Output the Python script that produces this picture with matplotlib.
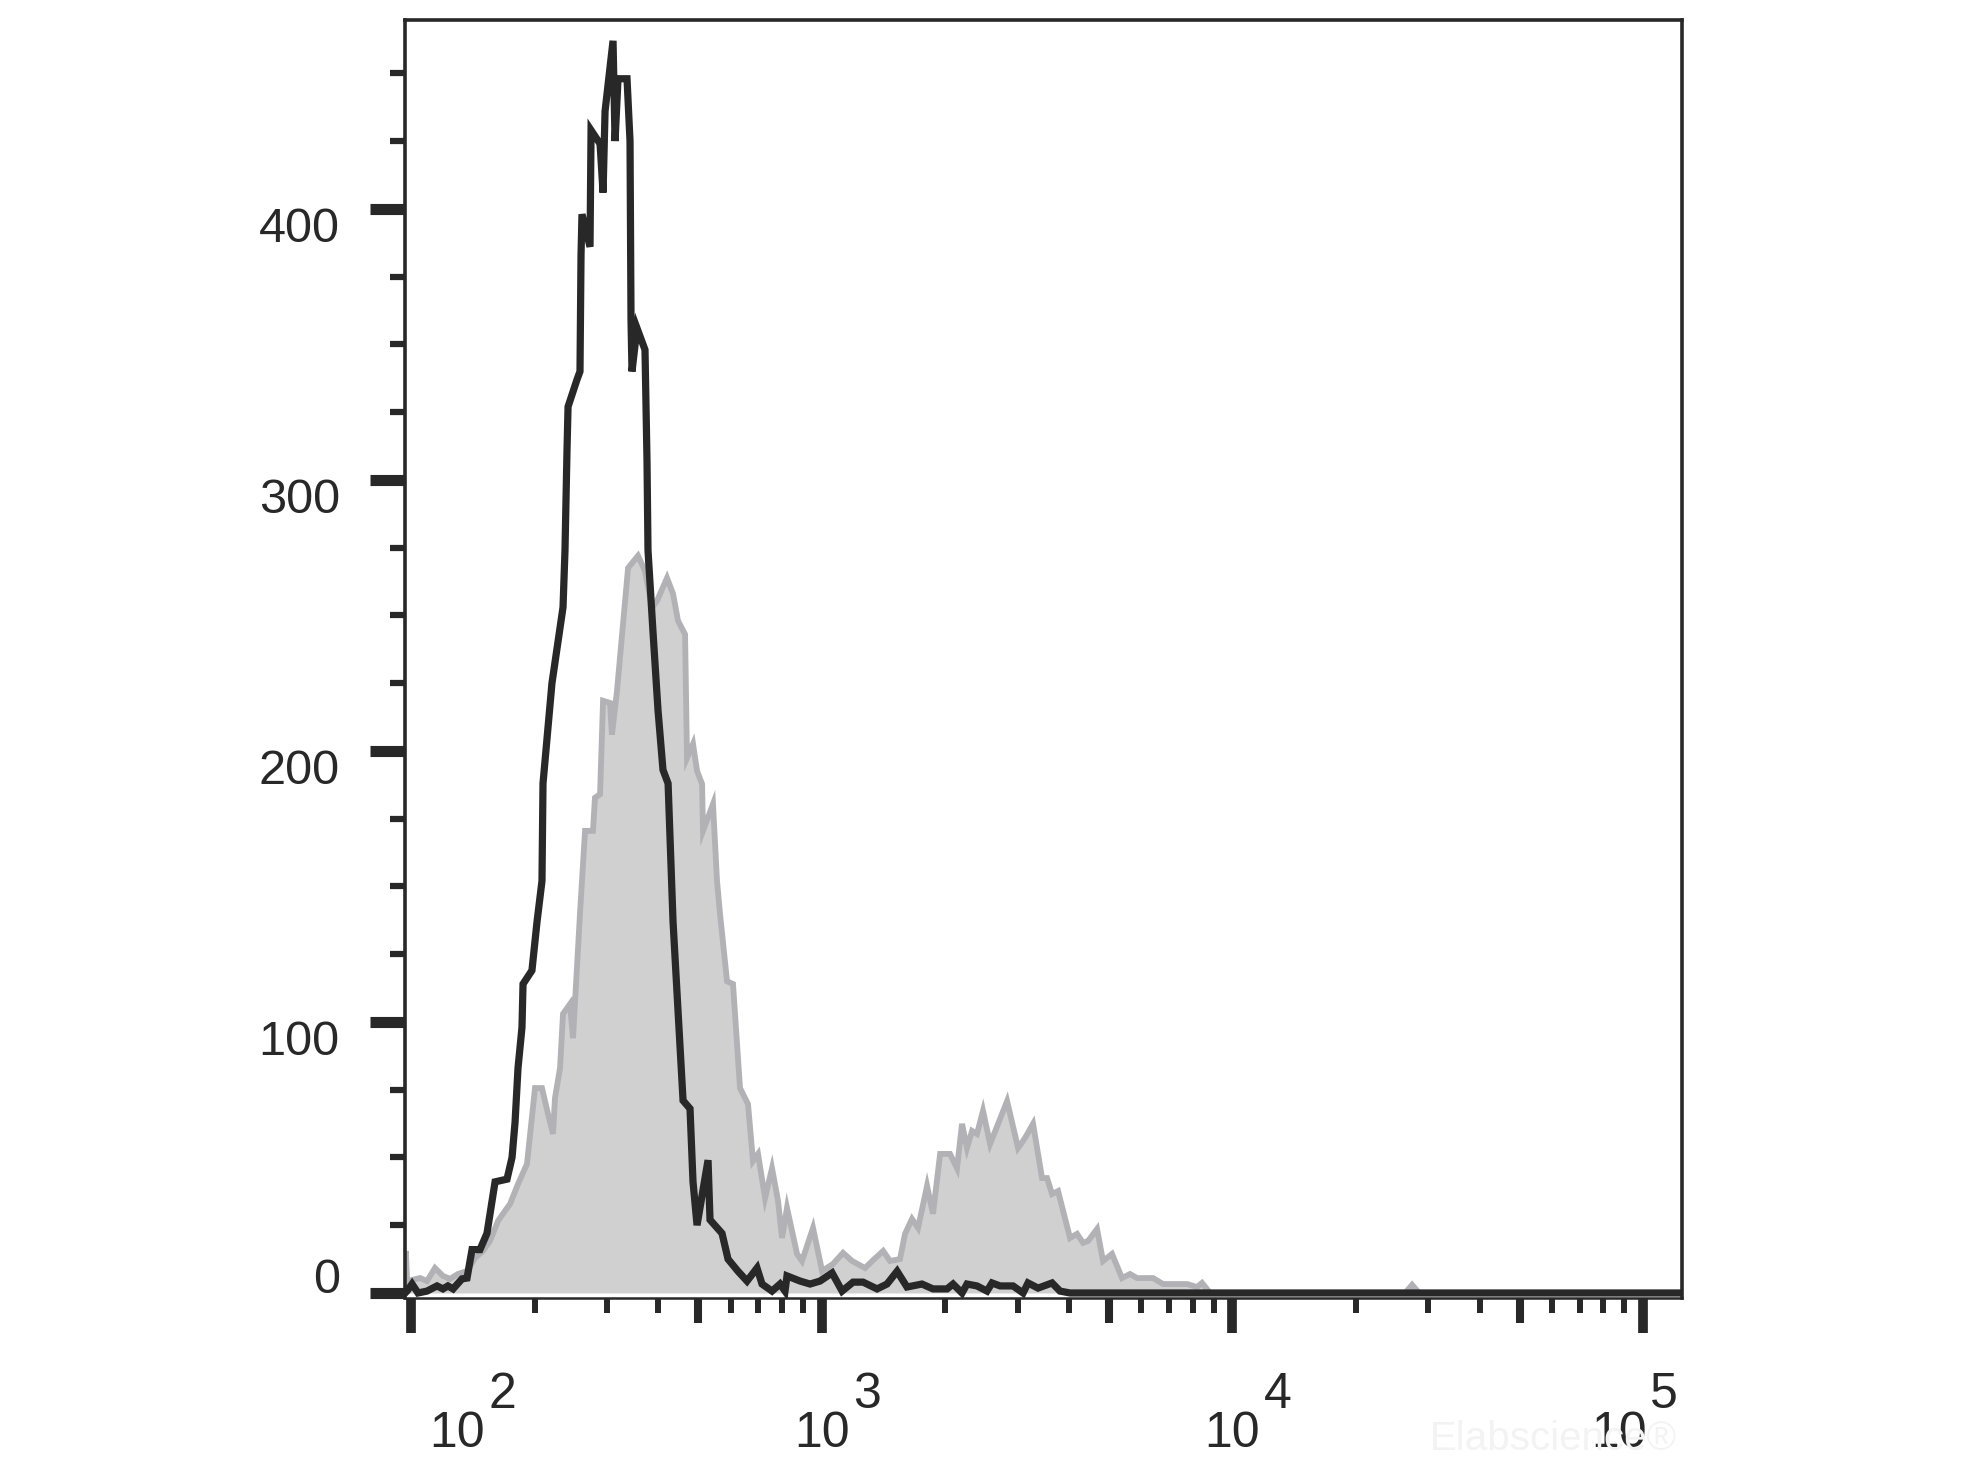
import matplotlib
matplotlib.use("Agg")
import matplotlib.pyplot as plt
import matplotlib.transforms as mtransforms
from matplotlib.ticker import FixedLocator, NullFormatter

plt.rcParams["font.family"] = ["Liberation Sans", "DejaVu Sans"]

# stained sample (black outline)
black_x = [96.7, 97.8, 100.6, 104, 109.4, 115.7, 119.6, 123, 126.6, 133.1, 136.9, 140.8,
           147.2, 153.1, 160.2, 171.3, 176.2, 179.2, 182.2, 186.3, 187.4, 197, 202.7, 208.4,
           209.6, 220.4, 234.5, 237.1, 239.8, 241.2, 253.6, 257.9, 259.4, 260.8, 272.8, 274.4,
           288.6, 293.5, 296.8, 310.4, 313.9, 319.2, 335.7, 341.4, 343.3, 345.2, 355, 371.3,
           375.5, 377.6, 388.3, 399.4, 410.7, 422.6, 434.5, 459.6, 477.9, 486, 497.1, 528.7,
           534.6, 571.8, 591.4, 625.5, 657.9, 695.8, 715.6, 756.8, 791.5, 814, 823.1, 885.5,
           936.6, 990.6, 1060, 1121, 1192, 1261, 1364, 1442, 1526, 1613, 1754, 1866, 2019,
           2088, 2196, 2258, 2388, 2526, 2598, 2718, 2923, 3092, 3179, 3363, 3637, 3803, 4023,
           124360]
black_y = [0, 0.7, 3.3, 0, 0.7, 2.6, 1.5, 2.6, 1.5, 5.2, 5.5, 16,
           16, 22, 41, 42, 50, 63, 83, 98, 114, 119, 137, 152,
           188, 225, 253, 274, 311, 327, 337, 340, 383, 398, 386, 429,
           424, 406, 436, 462, 425, 448, 448, 425, 359, 340, 356, 348,
           307, 274, 244, 215, 193, 188, 137, 71, 68, 41, 25, 49,
           27, 22, 12.5, 8, 4.4, 9.2, 3.3, 0.7, 3.3, 0.7, 6.3, 4.4,
           3.3, 4.4, 7.4, 0.7, 4, 4, 1.5, 3.3, 8, 2.2, 3.3, 1.5, 1.5,
           3.3, 0, 3.3, 2.6, 0.7, 3.7, 2.6, 2.6, 0, 3.7, 1.8, 3.7, 0.7, 0,
           0]

# control sample (grey filled)
gray_x = [96.7, 97.2, 97.8, 105.2, 109.4, 114.4, 119.6, 124.5, 130.1, 136.9, 143.2, 149.7,
          155.7, 162.9, 169.4, 174.2, 182.2, 191.6, 200.4, 208.4, 215.6, 221.7, 224.2, 230.6,
          234.5, 243.8, 248, 257.9, 265.3, 277.4, 280.5, 288.6, 293.5, 305.1, 308.5, 317.3,
          337.7, 357, 371.3, 386.2, 397.2, 420.1, 434.5, 446.8, 464.8, 469.9, 486, 497.1,
          511.3, 514, 543.6, 556, 565.4, 588.1, 608.1, 632.5, 661.5, 680.3, 699.7, 727.8,
          756.8, 782.8, 800.5, 823.1, 870.8, 895.4, 952.4, 1002, 1065, 1127, 1186, 1275,
          1327, 1411, 1467, 1551, 1595, 1659, 1716, 1805, 1866, 1942, 2053, 2135, 2196,
          2258, 2323, 2388, 2470, 2570, 2688, 2827, 3006, 3126, 3270, 3439, 3537, 3637,
          3762, 4023, 4185, 4328, 4451, 4681, 4841, 5091, 5385, 5632, 5858, 6410, 6776,
          7454, 7753, 8200, 8433, 8820, 26330, 27380, 28470, 124360]
gray_y = [0, 15.5, 4.4, 5.5, 4.4, 9.2, 6.3, 5.2, 7, 8.1, 12.9, 15.5,
          19.2, 26.6, 30.3, 32.8, 40.2, 47.6, 75.6, 75.6, 66, 58.7, 72, 83,
          103, 106.6, 94, 140, 170.5, 170.5, 182.7, 184, 218.5, 217.7, 206, 222,
          267.5, 272, 266.4, 252.8, 255.4, 263.8, 258, 248, 243, 197.4, 202.6, 192.6,
          187.8, 170.5, 180.4, 152, 139.9, 115, 114, 75.6, 69.7, 48.7, 51.3, 35,
          46, 34, 20.3, 31.4, 14.4, 11.8, 24, 8.1, 10.7, 14.8, 11.8, 9.2,
          11.8, 15.5, 11.8, 12.5, 21.8, 27.3, 24, 39.5, 29.2, 51.3, 51.3, 46, 62.4,
          53.5, 59.8, 58.7, 67.2, 55, 62.4, 70.8, 53.5, 57.2, 62.4, 42.4, 42.4, 36.5,
          37.6, 20.3, 21.8, 18.5, 19.2, 23.6, 11.8, 14.4, 5.5, 7, 5.5, 5.5, 3.3,
          3.3, 3.3, 2.2, 3.7, 0, 0, 3, 0, 0]

y_major = [0, 100, 200, 300, 400]
y_minor = [25, 50, 75, 125, 150, 175, 225, 250, 275, 325, 350, 375, 425, 450]
x_decades = [1e2, 1e3, 1e4, 1e5]
x_exponents = ["2", "3", "4", "5"]
x_half = [5e2, 5e3, 5e4]
x_minor = [m * d for d in [1e2, 1e3, 1e4] for m in [2, 3, 4, 6, 7, 8, 9]]

ink = "#282828"

fig = plt.figure(figsize=(19.68, 14.76), dpi=100)
ax = fig.add_axes([0.2058, 0.1206, 0.6489, 0.8659])

ax.fill_between(gray_x, gray_y, 0, color="#d0d0d0", lw=0, zorder=1)
ax.plot(gray_x, gray_y, color="#b2b2b6", lw=4.2, zorder=2, solid_joinstyle="miter")
ax.plot(black_x, black_y, color=ink, lw=5.2, zorder=3, solid_joinstyle="miter")

ax.set_xscale("log")
ax.set_xlim(96.7, 124360)
ax.set_ylim(-1.85, 469.7)

for side in ["left", "top", "right"]:
    ax.spines[side].set_linewidth(2.6)
    ax.spines[side].set_color(ink)
ax.spines["bottom"].set_linewidth(1.8)
ax.spines["bottom"].set_color(ink)

# y axis
ax.yaxis.set_major_locator(FixedLocator(y_major))
ax.yaxis.set_minor_locator(FixedLocator(y_minor))
ax.set_yticklabels([str(v) for v in y_major], fontsize=35, color=ink)
ax.tick_params(axis="y", which="major", direction="out", length=25, width=8,
               color=ink, pad=22)
ax.tick_params(axis="y", which="minor", direction="out", length=11, width=4.5,
               color=ink)
for lab, v in zip(ax.get_yticklabels(), y_major):
    dy = 0.17 if v == 0 else -0.16
    lab.set_transform(lab.get_transform() +
                      mtransforms.ScaledTranslation(0, dy, fig.dpi_scale_trans))

# x axis
ax.xaxis.set_major_locator(FixedLocator(x_decades))
ax.xaxis.set_minor_locator(FixedLocator(x_minor))
ax.xaxis.set_major_formatter(NullFormatter())
ax.xaxis.set_minor_formatter(NullFormatter())
ax.tick_params(axis="x", which="major", direction="out", length=25, width=7, color=ink)
ax.tick_params(axis="x", which="minor", direction="out", length=11, width=4.3, color=ink)

sec = ax.secondary_xaxis("bottom")
sec.xaxis.set_major_locator(FixedLocator(x_half))
sec.xaxis.set_major_formatter(NullFormatter())
sec.xaxis.set_minor_locator(FixedLocator([]))
sec.tick_params(axis="x", which="major", direction="out", length=18, width=5.8, color=ink)
sec.spines["bottom"].set_visible(False)

# faint watermark, behind the labels
fig.text(0.852, 1 - 1450 / 1476, "Elabscience\u00ae", fontsize=29, color="#f3f3f3",
         ha="right", va="baseline", zorder=0)

# decade labels "10" with raised exponent
base_dx = [0.46, 0.0, 0.0, -0.24]
for d, e, dx in zip(x_decades, x_exponents, base_dx):
    tr = ax.get_xaxis_transform()
    ax.text(d, 0, "10", fontsize=36, color=ink, ha="center", va="baseline",
            transform=tr + mtransforms.ScaledTranslation(dx, -1.49, fig.dpi_scale_trans))
    ax.text(d, 0, e, fontsize=36, color=ink, ha="left", va="baseline",
            transform=tr + mtransforms.ScaledTranslation(dx + 0.31, -1.10, fig.dpi_scale_trans))

fig.savefig("out.png", dpi=100)
